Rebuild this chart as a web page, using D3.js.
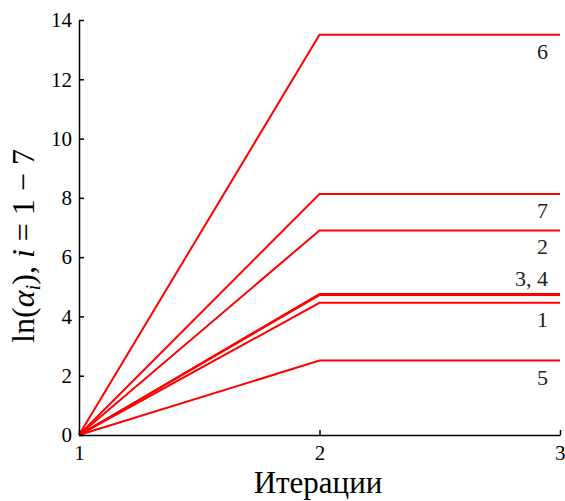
<!DOCTYPE html>
<html>
<head>
<meta charset="utf-8">
<script src="https://cdn.jsdelivr.net/npm/d3@7"></script>
<style>
body { margin: 0; background: #fff; }
text { font-family: "Liberation Serif", "DejaVu Serif", serif; }
</style>
</head>
<body>
<svg id="chart" width="565" height="501"></svg>
<script>
var iterations = [1, 2, 3];
var seriesNames = ["1", "2", "3", "4", "5", "6", "7"];
var seriesValues = [
  [0, 4.46, 4.46],
  [0, 6.90, 6.90],
  [0, 4.72, 4.72],
  [0, 4.76, 4.76],
  [0, 2.51, 2.51],
  [0, 13.50, 13.50],
  [0, 8.13, 8.13]
];
var labelTexts = ["1", "2", "3, 4", "5", "6", "7"];
var labelValues = [4.46, 6.90, 4.74, 2.51, 13.50, 8.13];
var labelAbove = [false, false, true, false, false, false];
var yTicks = [0, 2, 4, 6, 8, 10, 12, 14];

var svg = d3.select("#chart");
var x = d3.scaleLinear().domain([1, 3]).range([79, 560]);
var y = d3.scaleLinear().domain([0, 14]).range([435, 20]);

var line = d3.line()
  .x(function(d, i) { return x(iterations[i]); })
  .y(function(d) { return y(d); });

svg.selectAll(".series")
  .data(seriesValues)
  .enter()
  .append("path")
  .attr("class", "series")
  .attr("d", line)
  .attr("fill", "none")
  .attr("stroke", "#ff0000")
  .attr("stroke-width", 2);

var yAxis = svg.append("g")
  .attr("transform", "translate(" + x(1) + ",0)")
  .call(d3.axisLeft(y).tickValues(yTicks).tickSizeInner(-5).tickSizeOuter(0).tickPadding(7));
var xAxis = svg.append("g")
  .attr("transform", "translate(0," + y(0) + ")")
  .call(d3.axisBottom(x).tickValues(iterations).tickFormat(d3.format("d")).tickSizeInner(-5).tickSizeOuter(0).tickPadding(4));

[xAxis, yAxis].forEach(function(a) {
  a.selectAll("path, line").attr("stroke", "#000").attr("stroke-width", 1.5);
  a.selectAll("text").attr("font-size", 21).attr("fill", "#000")
    .style("font-family", "'Liberation Serif', serif");
});
xAxis.selectAll("text").attr("dy", "1.0em");
xAxis.selectAll(".tick:last-of-type text").attr("text-anchor", "end").attr("dx", 5);

svg.selectAll(".lbl")
  .data(labelTexts)
  .enter()
  .append("text")
  .attr("class", "lbl")
  .attr("x", 548)
  .attr("y", function(d, i) { return y(labelValues[i]) + (labelAbove[i] ? -8 : 24); })
  .attr("text-anchor", "end")
  .attr("font-size", 22)
  .attr("fill", "#222")
  .text(function(d) { return d; });

svg.append("text")
  .attr("x", 318)
  .attr("y", 493)
  .attr("text-anchor", "middle")
  .attr("font-size", 31)
  .attr("fill", "#000")
  .text("Итерации");

var yl = svg.append("text")
  .attr("transform", "translate(34,246) rotate(-90)")
  .attr("text-anchor", "middle")
  .attr("font-size", 32)
  .attr("fill", "#000");
yl.append("tspan").text("ln(");
yl.append("tspan").attr("font-style", "italic").text("α");
yl.append("tspan").attr("font-style", "italic").attr("font-size", 21).attr("dy", 6).text("i");
yl.append("tspan").attr("dy", -6).text("), ");
yl.append("tspan").attr("font-style", "italic").text("i");
yl.append("tspan").text(" = 1 − 7");
</script>
</body>
</html>
